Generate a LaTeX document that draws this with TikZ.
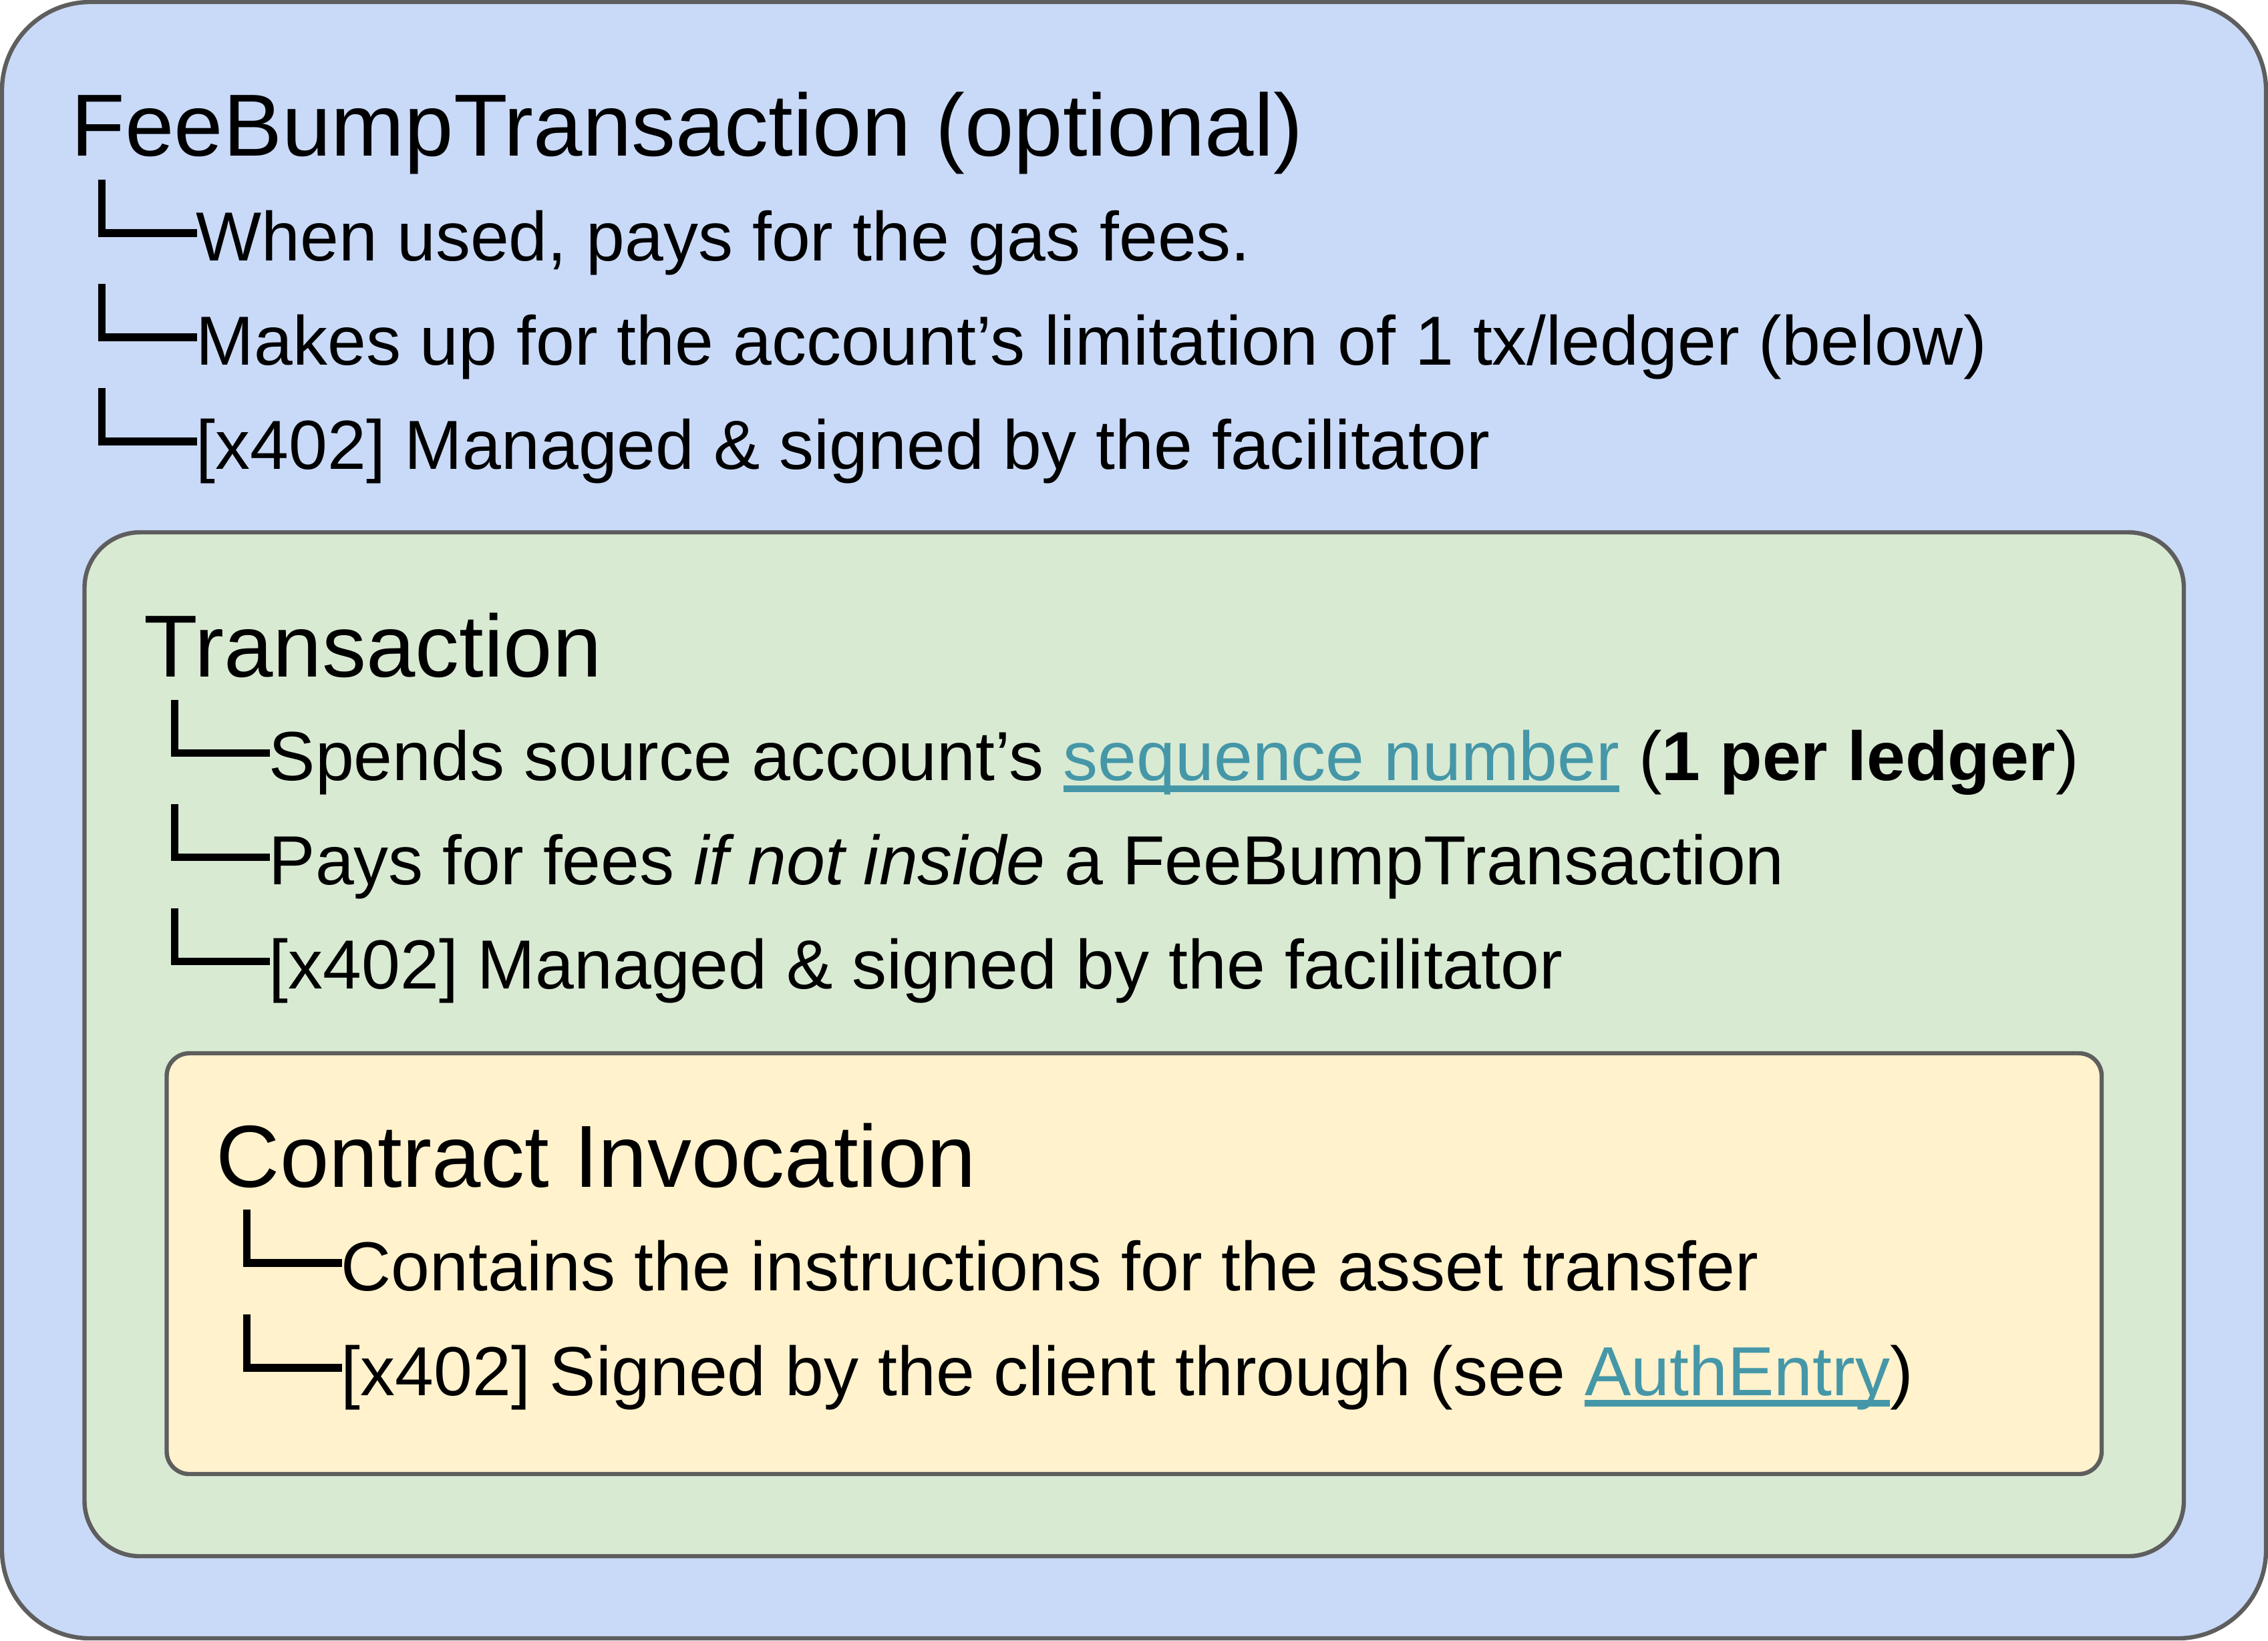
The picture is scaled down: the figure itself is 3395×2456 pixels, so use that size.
\documentclass[tikz,border=0pt]{standalone}
\usepackage{fontspec}
\setmainfont{Liberation Sans}
\definecolor{bluefill}{HTML}{C9DAF8}
\definecolor{greenfill}{HTML}{D9EAD3}
\definecolor{yellowfill}{HTML}{FFF2CC}
\definecolor{edgegray}{HTML}{5E5E5E}
\definecolor{linkc}{HTML}{4597A8}
\newsavebox\lnkbox
\newcommand\lnk[1]{\sbox\lnkbox{\textcolor{linkc}{#1}}\rlap{\textcolor{linkc}{\rule[-4.25pt]{\wd\lnkbox}{2.5pt}}}\usebox\lnkbox}
\newcommand\treebranch[2]{\draw[branchline] (#1+46.5,#2-120.7) -- (#1+46.5,#2-41) -- (#1+189,#2-41);}
\begin{document}
\begin{tikzpicture}[x=0.25pt,y=-0.25pt,
  box/.style={draw=edgegray,line width=1.6pt},
  titletext/.style={anchor=base west,inner sep=0pt,font=\fontsize{33}{40}\selectfont},
  itemtext/.style={anchor=base west,inner sep=0pt,font=\fontsize{26}{31}\selectfont},
  branchline/.style={draw=black,line width=2.9pt,line join=miter}]
\useasboundingbox (0,0) rectangle (3395,2456);
% boxes
\draw[box,fill=bluefill,rounded corners=33pt] (3,3) rectangle (3392,2453);
\draw[box,fill=greenfill,rounded corners=20.75pt] (126.5,797) rectangle (3269,2330);
\draw[box,fill=yellowfill,rounded corners=8.5pt] (249.5,1577) rectangle (3146,2207);
% outer: FeeBumpTransaction
\node[titletext] (fbt) at (106,233) {FeeBumpTransaction (optional)};
\treebranch{106}{390}
\treebranch{106}{546}
\treebranch{106}{702}
\node[itemtext] (fbt1) at (293,390) {When used, pays for the gas fees.};
\node[itemtext] (fbt2) at (293,546) {Makes up for the account’s limitation of 1 tx/ledger (below)};
\node[itemtext] (fbt3) at (293,702) {[x402] Managed \& signed by the facilitator};
% green: Transaction
\node[titletext] (tx) at (215,1013.5) {Transaction};
\treebranch{215}{1168.5}
\treebranch{215}{1324.5}
\treebranch{215}{1480.5}
\node[itemtext] (tx1) at (402,1168.5) {Spends source account’s \lnk{sequence number}\ (\textbf{1 per ledger})};
\node[itemtext] (tx2) at (402,1324.5) {Pays for fees \textit{if not inside} a FeeBumpTransaction};
\node[itemtext] (tx3) at (402,1480.5) {[x402] Managed \& signed by the facilitator};
% yellow: Contract Invocation
\node[titletext] (ci) at (323,1777) {Contract Invocation};
\treebranch{323}{1932}
\treebranch{323}{2089}
\node[itemtext] (ci1) at (510,1932) {Contains the instructions for the asset transfer};
\node[itemtext] (ci2) at (510,2089) {[x402] Signed by the client through (see \lnk{AuthEntry})};
\end{tikzpicture}
\end{document}
